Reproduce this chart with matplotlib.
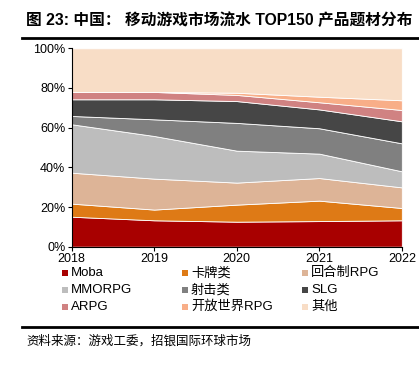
import numpy as np
import matplotlib.pyplot as plt
from matplotlib.patches import Rectangle
from matplotlib.ticker import PercentFormatter
from matplotlib.lines import Line2D

plt.rcParams['font.family'] = ['Liberation Sans', 'Noto Sans CJK SC', 'DejaVu Sans']

years = [2018, 2019, 2020, 2021, 2022]
categories = ['Moba', '卡牌类', '回合制RPG', 'MMORPG', '射击类', 'SLG', 'ARPG', '开放世界RPG', '其他']

# shares in % per year
moba = [15.1, 13.3, 12.6, 12.9, 13.3]
card = [6.6, 5.4, 8.6, 10.3, 6.2]
turn_rpg = [15.6, 15.6, 11.1, 11.4, 10.4]
mmorpg = [24.4, 21.5, 16.1, 12.3, 8.1]
shooter = [4.2, 8.4, 14.0, 12.8, 14.1]
slg = [8.4, 10.1, 11.0, 9.5, 11.1]
arpg = [3.7, 3.7, 3.1, 3.6, 5.7]
open_world = [0.0, 0.0, 1.1, 2.8, 4.9]
other = [22.0, 22.0, 22.4, 24.4, 26.2]

colors = ['#A80000', '#DE7A16', '#DDB497', '#BDBDBD', '#808080',
          '#464646', '#D08282', '#F8AE88', '#F8DDC6']

series = [moba, card, turn_rpg, mmorpg, shooter, slg, arpg, open_world, other]

W, H = 419, 366
fig = plt.figure(figsize=(W / 100, H / 100), dpi=100)
ax = fig.add_axes([0.171, 0.326, 0.788, 0.542])

ax.stackplot(years, *series, colors=colors, linewidth=0.6, edgecolor='white')

ax.set_xlim(2018, 2022)
ax.set_ylim(0, 100)
ax.set_xticks(years)
ax.set_yticks(np.arange(0, 101, 20))
ax.yaxis.set_major_formatter(PercentFormatter(decimals=0))
ax.tick_params(labelsize=9, length=3, width=0.8, pad=1.5)
for s in ['top', 'right']:
    ax.spines[s].set_visible(False)
ax.spines['left'].set_linewidth(0.8)
ax.spines['bottom'].set_linewidth(0.8)

# legend, 3 columns filled row by row
col_x = [62, 182, 302]
row_y = [273, 290, 307]
for i, (lab, c) in enumerate(zip(categories, colors)):
    x = col_x[i % 3]
    y = row_y[i // 3]
    fig.add_artist(Rectangle((x / W, 1 - (y + 3) / H), 6 / W, 6 / H,
                             transform=fig.transFigure, facecolor=c, edgecolor='none'))
    fig.text((x + 9) / W, 1 - y / H, lab, fontsize=9.5, va='center', ha='left')

# title and rules
fig.text(0.062, 0.945, '图 23: 中国： 移动游戏市场流水 TOP150 产品题材分布',
         fontsize=11.3, fontweight='bold', va='center', ha='left')
fig.add_artist(Line2D([0.053, 1.0], [0.896, 0.896], color='black', linewidth=2))
fig.add_artist(Line2D([0.053, 1.0], [0.106, 0.106], color='black', linewidth=2))
fig.text(0.062, 0.068, '资料来源：游戏工委，招银国际环球市场', fontsize=9,
         va='center', ha='left')

fig.savefig('out.png', dpi=100)
